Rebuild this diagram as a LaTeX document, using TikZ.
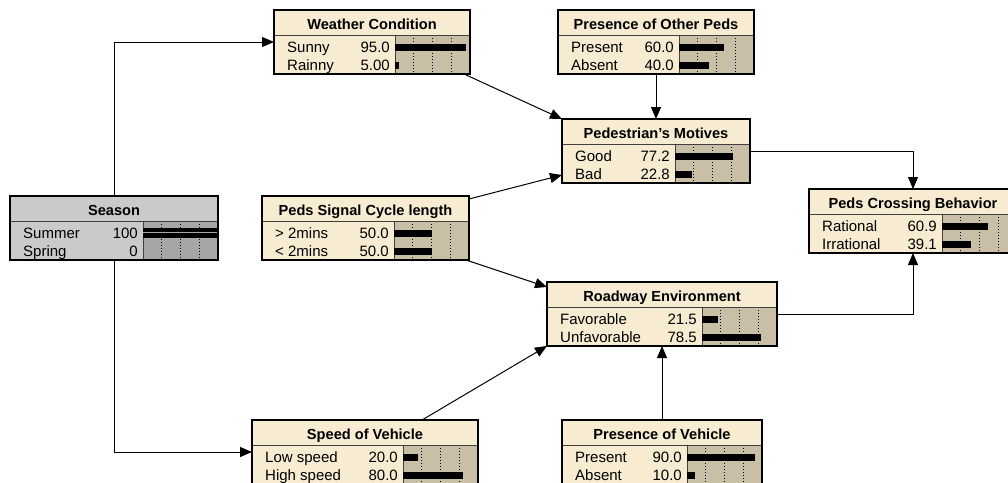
\documentclass[tikz,border=0pt]{standalone}
\usepackage{fontspec}
\setmainfont{Liberation Sans}
\usetikzlibrary{arrows.meta}
\definecolor{creamtitle}{HTML}{F7ECD2}
\definecolor{creambody}{HTML}{F7ECD2}
\definecolor{creambar}{HTML}{C9BFA7}
\definecolor{graytitle}{HTML}{CACACA}
\definecolor{graybody}{HTML}{CACACA}
\definecolor{graybar}{HTML}{A6A6A6}
\newcommand\bnbox[7]{%
  \pgfmathsetmacro\bnxa{#2}\pgfmathsetmacro\bnxb{#3}\pgfmathsetmacro\bnxc{#4}%
  \pgfmathsetmacro\bnT{#5}\pgfmathsetmacro\bnW{#3-#4}\pgfmathsetmacro\bnwid{#3-#2}%
  \node[anchorbox, minimum width=\bnwid pt, minimum height=64pt, anchor=north west] (#1) at (#2,#5) {};
  \coordinate (#1-b) at (#4,#5);
  \fill[#7title] (#2,#5) rectangle (#3,#5+25);
  \fill[#7body] (#2,#5+25) rectangle (#4,#5+64);
  \fill[#7bar] (#4,#5+25) rectangle (#3,#5+64);
  \foreach \f in {0.25,0.5,0.75} \draw[dotline] ({#4+\f*\bnW},#5+25) -- ({#4+\f*\bnW},#5+64);
  \draw[sepline] (#2,#5+25) -- (#3,#5+25);
  \draw[sepline] (#4,#5+25) -- (#4,#5+64);
  \node[titletext] (#1-t) at ({(#2+#3)/2},#5+19.5) {#6};
}
\newcommand\bnrow[5]{%
  \pgfmathsetmacro\bny{\bnT+18*#2+19}%
  \node[rowtext, anchor=base west] (#1-l#2) at (\bnxa+13,\bny+5.5) {#3};
  \node[rowtext, anchor=base east] (#1-v#2) at (\bnxc-5,\bny+5.5) {#4};
  \ifdim #5pt>0pt \fill[black] (\bnxc,\bny-3.5) rectangle ({\bnxc+#5*\bnW/100},\bny+3.5);\fi
}
\newcommand\bnframe[1]{\draw[bnframe] (#1.north west) rectangle (#1.south east);}
\begin{document}
\begin{tikzpicture}[x=1pt,y=-1pt,
  anchorbox/.style={rectangle, inner sep=0pt, outer sep=0pt, draw=none},
  conn/.style={draw=black, line width=1pt, -{Triangle[length=12pt,width=10pt]}},
  titletext/.style={font=\fontsize{14.6}{16}\selectfont\bfseries, anchor=base, inner sep=0pt},
  rowtext/.style={font=\fontsize{15}{17}\selectfont, inner sep=0pt},
  dotline/.style={black, line width=0.8pt, dash pattern=on 1pt off 2pt},
  sepline/.style={black!75, line width=1pt},
  bnframe/.style={black, line width=2pt}]
\path[use as bounding box, clip] (0,0) rectangle (1008,482);
\fill[white] (0,0) rectangle (1008,482);

% Season
\bnbox{season}{10}{218}{143}{196}{Season}{gray}
\bnrow{season}{1}{Summer}{100}{0}
\bnrow{season}{2}{Spring}{0}{0}
\fill[black] (143,227.5) rectangle (218,237.7);
\draw[graybar, line width=1.2pt] (143,232.6) -- (218,232.6);
\bnframe{season}

% Weather
\bnbox{weather}{274}{470}{395}{10}{Weather Condition}{cream}
\bnrow{weather}{1}{Sunny}{95.0}{95.0}
\bnrow{weather}{2}{Rainny}{5.00}{5.00}
\bnframe{weather}

% Presence of Other Peds
\bnbox{otherpeds}{558}{754}{679}{10}{Presence of Other Peds}{cream}
\bnrow{otherpeds}{1}{Present}{60.0}{60.0}
\bnrow{otherpeds}{2}{Absent}{40.0}{40.0}
\bnframe{otherpeds}

% Pedestrian's Motives
\bnbox{motives}{562}{750}{675}{119}{Pedestrian's Motives}{cream}
\bnrow{motives}{1}{Good}{77.2}{77.2}
\bnrow{motives}{2}{Bad}{22.8}{22.8}
\bnframe{motives}

% Peds Signal Cycle length
\bnbox{signal}{262}{469}{394}{196}{Peds Signal Cycle length}{cream}
\bnrow{signal}{1}{> 2mins}{50.0}{50.0}
\bnrow{signal}{2}{< 2mins}{50.0}{50.0}
\bnframe{signal}

% Peds Crossing Behavior
\bnbox{crossing}{809}{1017}{942}{189}{Peds Crossing Behavior}{cream}
\bnrow{crossing}{1}{Rational}{60.9}{60.9}
\bnrow{crossing}{2}{Irrational}{39.1}{39.1}
\bnframe{crossing}

% Roadway Environment
\bnbox{road}{547}{777}{702}{282}{Roadway Environment}{cream}
\bnrow{road}{1}{Favorable}{21.5}{21.5}
\bnrow{road}{2}{Unfavorable}{78.5}{78.5}
\bnframe{road}

% Speed of Vehicle
\bnbox{speed}{252}{478}{403}{420}{Speed of Vehicle}{cream}
\bnrow{speed}{1}{Low speed}{20.0}{20.0}
\bnrow{speed}{2}{High speed}{80.0}{80.0}
\bnframe{speed}

% Presence of Vehicle
\bnbox{pveh}{562}{762}{687}{420}{Presence of Vehicle}{cream}
\bnrow{pveh}{1}{Present}{90.0}{90.0}
\bnrow{pveh}{2}{Absent}{10.0}{10.0}
\bnframe{pveh}

% connectors
\draw[conn] (season.north) |- (weather.west);
\draw[conn] (season.south) |- (speed.west);
\draw[conn] ([xshift=-6pt]weather.south east) -- (motives.north west);
\draw[conn] (otherpeds.south) -- (motives.north);
\draw[conn] ([yshift=-3pt]signal.north east) -- ([yshift=8pt]motives.south west);
\draw[conn] ([xshift=-3pt]signal.south east) -- ([yshift=-5pt]road.north west);
\draw[conn] (motives.east) -| (crossing.north);
\draw[conn] (road.east) -| (crossing.south);
\draw[conn] ([xshift=170pt]speed.north west) -- (road.south west);
\draw[conn] (pveh.north) -- (road.south);
\end{tikzpicture}
\end{document}
